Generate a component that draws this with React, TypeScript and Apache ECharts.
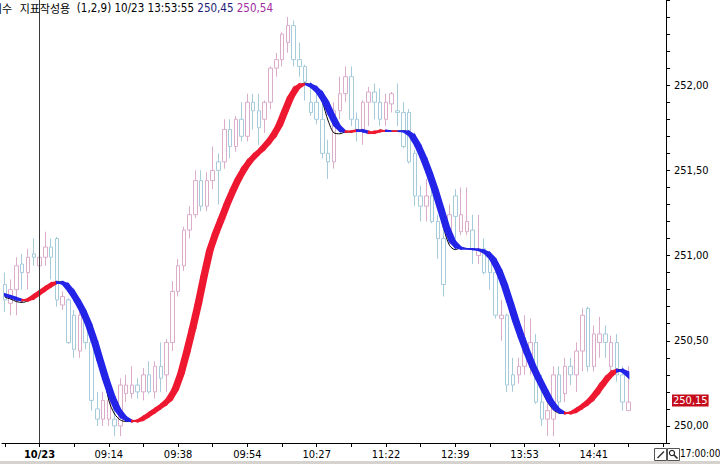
import React, { useEffect, useRef } from 'react';
import * as echarts from 'echarts';

const TOTAL_SLOTS = 115;
const xLabelIndex = [6, 18, 30, 42, 54, 66, 78, 90, 102];
const xLabelText = ['10/23', '09:14', '09:38', '09:54', '10:27', '11:22', '12:39', '13:53', '14:41'];
const TICK_STEP = 6;

const openVals = [
  250.83, 250.72, 250.80, 250.95, 250.90, 251.01, 250.94, 250.99, 251.05, 251.10,
  250.71, 250.74, 250.65, 250.44, 250.63, 250.49, 250.10, 250.04, 250.04, 250.04,
  250.00, 250.19, 250.19, 250.24, 250.20, 250.30, 250.20, 250.35, 250.30, 250.49,
  250.79, 250.94, 251.15, 251.24, 251.44, 251.29, 251.44, 251.55, 251.55, 251.74,
  251.64, 251.80, 251.70, 251.90, 251.85, 251.80, 251.90, 252.10, 252.15, 252.25,
  252.35, 252.15, 252.11, 251.90, 251.90, 251.80, 251.60, 251.55, 251.85, 251.95,
  252.05, 251.80, 251.73, 251.90, 251.96, 251.90, 251.80, 251.89, 251.85, 251.84,
  251.84, 251.60, 251.35, 251.29, 251.35, 251.20, 251.10, 251.14, 251.35, 251.14,
  251.14, 251.15, 251.00, 251.04, 250.98, 250.90, 250.63, 250.65, 250.30, 250.30,
  250.35, 250.40, 250.49, 250.14, 250.04, 250.04, 250.30, 250.19, 250.35, 250.30,
  250.44, 250.69, 250.35, 250.49, 250.54, 250.35, 250.49, 250.30, 250.09,
];
const closeVals = [
  250.74, 250.80, 250.94, 250.90, 250.99, 250.99, 250.99, 251.05, 250.99, 250.74,
  250.76, 250.49, 250.45, 250.65, 250.49, 250.15, 250.04, 250.15, 250.15, 250.00,
  250.24, 250.24, 250.24, 250.20, 250.30, 250.20, 250.35, 250.28, 250.49, 250.79,
  250.94, 251.15, 251.24, 251.44, 251.29, 251.44, 251.50, 251.50, 251.74, 251.64,
  251.80, 251.70, 251.90, 251.85, 251.75, 251.90, 252.10, 252.15, 252.30, 252.35,
  252.15, 252.11, 252.02, 251.84, 251.80, 251.60, 251.55, 251.85, 251.95, 252.05,
  251.80, 251.73, 251.90, 251.96, 251.90, 251.80, 251.90, 251.95, 251.84, 251.64,
  251.55, 251.35, 251.29, 251.35, 251.20, 251.10, 250.83, 251.24, 251.23, 251.24,
  251.20, 251.04, 251.04, 250.90, 250.90, 250.65, 250.65, 250.24, 250.24, 250.35,
  250.49, 250.49, 250.14, 250.04, 250.09, 250.30, 250.14, 250.35, 250.30, 250.44,
  250.65, 250.35, 250.54, 250.54, 250.49, 250.49, 250.30, 250.14, 250.14,
];
const lowVals = [
  250.67, 250.65, 250.65, 250.80, 250.80, 250.94, 250.86, 250.94, 250.86, 250.70,
  250.68, 250.48, 250.40, 250.40, 250.45, 250.09, 250.00, 250.00, 250.00, 249.94,
  249.94, 250.14, 250.16, 250.16, 250.15, 250.19, 250.16, 250.20, 250.20, 250.44,
  250.76, 250.91, 251.10, 251.22, 251.26, 251.26, 251.39, 251.30, 251.51, 251.57,
  251.61, 251.67, 251.67, 251.74, 251.65, 251.72, 251.86, 252.05, 252.11, 252.19,
  252.11, 252.05, 251.91, 251.82, 251.77, 251.57, 251.45, 251.51, 251.80, 251.90,
  251.76, 251.67, 251.65, 251.76, 251.80, 251.76, 251.76, 251.84, 251.76, 251.63,
  251.54, 251.29, 251.20, 251.20, 251.19, 250.98, 250.76, 251.07, 251.10, 251.12,
  251.12, 250.95, 250.95, 250.89, 250.80, 250.63, 250.50, 250.20, 250.20, 250.25,
  250.30, 250.30, 250.13, 250.00, 249.94, 249.94, 250.10, 250.14, 250.24, 250.20,
  250.32, 250.32, 250.32, 250.40, 250.40, 250.29, 250.26, 250.09, 250.09,
];
const highVals = [
  250.90, 250.86, 250.99, 251.01, 251.04, 251.10, 251.26, 251.14, 251.10, 251.11,
  250.79, 250.75, 250.68, 250.71, 250.67, 250.51, 250.20, 250.20, 250.21, 250.10,
  250.28, 250.30, 250.35, 250.28, 250.34, 250.38, 250.38, 250.49, 250.51, 250.85,
  250.98, 251.17, 251.29, 251.50, 251.50, 251.49, 251.64, 251.60, 251.80, 251.80,
  251.82, 251.90, 251.95, 251.95, 251.95, 251.91, 252.11, 252.19, 252.31, 252.40,
  252.38, 252.25, 252.12, 252.02, 251.98, 251.89, 251.68, 251.90, 252.05, 252.11,
  252.11, 251.84, 251.91, 251.99, 252.01, 251.98, 251.95, 251.96, 252.01, 251.90,
  251.86, 251.62, 251.41, 251.45, 251.41, 251.24, 251.15, 251.30, 251.39, 251.40,
  251.40, 251.24, 251.24, 251.10, 251.01, 250.95, 250.74, 250.66, 250.40, 250.40,
  250.65, 250.63, 250.54, 250.30, 250.14, 250.35, 250.35, 250.40, 250.40, 250.49,
  250.69, 250.70, 250.59, 250.64, 250.59, 250.53, 250.54, 250.35, 250.35,
];

// fast average (leading edge of the band)
const fastAvg = [
  250.764, 250.753, 250.741, 250.735, 250.747, 250.770, 250.794, 250.817, 250.838, 250.846,
  250.832, 250.791, 250.738, 250.676, 250.597, 250.498, 250.384, 250.272, 250.173, 250.097,
  250.053, 250.032, 250.026, 250.035, 250.056, 250.079, 250.103, 250.126, 250.158, 250.214,
  250.308, 250.434, 250.571, 250.717, 250.881, 251.031, 251.130, 251.215, 251.303, 251.382,
  251.453, 251.511, 251.558, 251.593, 251.623, 251.661, 251.705, 251.763, 251.848, 251.930,
  251.983, 252.006, 252.006, 251.989, 251.957, 251.904, 251.830, 251.763, 251.731, 251.725,
  251.731, 251.737, 251.728, 251.719, 251.728, 251.734, 251.731, 251.731, 251.731, 251.728,
  251.705, 251.649, 251.573, 251.485, 251.385, 251.274, 251.163, 251.084, 251.048, 251.039,
  251.039, 251.037, 251.031, 251.016, 250.981, 250.916, 250.829, 250.724, 250.615, 250.518,
  250.427, 250.345, 250.275, 250.208, 250.144, 250.100, 250.079, 250.073, 250.082, 250.103,
  250.126, 250.155, 250.196, 250.243, 250.287, 250.319, 250.331, 250.316, 250.285,
];
// slow average (trailing edge of the band)
const slowAvg = [
  250.775, 250.764, 250.753, 250.741, 250.735, 250.747, 250.770, 250.794, 250.817, 250.838,
  250.846, 250.832, 250.791, 250.738, 250.676, 250.597, 250.498, 250.384, 250.272, 250.173,
  250.097, 250.053, 250.032, 250.026, 250.035, 250.056, 250.079, 250.103, 250.126, 250.158,
  250.214, 250.308, 250.434, 250.571, 250.717, 250.881, 251.031, 251.130, 251.215, 251.303,
  251.382, 251.453, 251.511, 251.558, 251.593, 251.623, 251.661, 251.705, 251.763, 251.848,
  251.930, 251.983, 252.006, 252.006, 251.989, 251.957, 251.904, 251.830, 251.763, 251.731,
  251.725, 251.731, 251.737, 251.728, 251.719, 251.728, 251.734, 251.731, 251.731, 251.731,
  251.728, 251.705, 251.649, 251.573, 251.485, 251.385, 251.274, 251.163, 251.084, 251.048,
  251.039, 251.039, 251.037, 251.031, 251.016, 250.981, 250.916, 250.829, 250.724, 250.615,
  250.518, 250.427, 250.345, 250.275, 250.208, 250.144, 250.100, 250.079, 250.073, 250.082,
  250.103, 250.126, 250.155, 250.196, 250.243, 250.287, 250.319, 250.331, 250.316,
];
// thin black line
const signalLine = [
  250.755, 250.745, 250.730, 250.725, 250.735, 250.758, 250.782, 250.805, 250.829, 250.846,
  250.846, 250.817, 250.764, 250.711, 250.641, 250.553, 250.442, 250.325, 250.150, 250.070,
  250.035, 250.026, 250.026, 250.026, 250.044, 250.067, 250.091, 250.114, 250.137, 250.178,
  250.249, 250.366, 250.501, 250.641, 250.793, 250.969, 251.092, 251.168, 251.262, 251.344,
  251.420, 251.485, 251.537, 251.578, 251.608, 251.637, 251.684, 251.725, 251.801, 251.895,
  251.965, 252.000, 252.012, 252.000, 251.977, 251.900, 251.790, 251.720, 251.715, 251.725,
  251.725, 251.737, 251.737, 251.719, 251.719, 251.737, 251.731, 251.731, 251.731, 251.731,
  251.725, 251.684, 251.614, 251.532, 251.438, 251.300, 251.160, 251.060, 251.035, 251.045,
  251.039, 251.039, 251.034, 251.028, 251.004, 250.957, 250.875, 250.782, 250.665, 250.565,
  250.471, 250.383, 250.280, 250.210, 250.140, 250.095, 250.075, 250.073, 250.073, 250.091,
  250.114, 250.137, 250.173, 250.219, 250.266, 250.307, 250.331, 250.331, 250.301,
];

const lastPrice = 250.15;
const headerTime = '10/23 13:53:55';
const headerVal1 = '250,45';
const headerVal2 = '250,54';

const RED = '#ee1830';
const BLUE = '#2424e8';
const PINK = '#dcaccb';
const CYAN = '#a6cbda';
const NARROW = "'Liberation Sans Narrow', 'DejaVu Sans Condensed', 'Liberation Sans', 'Noto Sans CJK KR', sans-serif";

export default function App() {
  const ref = useRef<HTMLDivElement>(null);
  useEffect(() => {
    if (!ref.current) return;
    const chart = echarts.init(ref.current, undefined, { renderer: 'svg' });

    const categories: string[] = [];
    for (let i = 0; i < TOTAL_SLOTS; i++) {
      const k = xLabelIndex.indexOf(i);
      categories.push(k >= 0 ? xLabelText[k] : '');
    }
    const candleData = openVals.map((o, i) => [o, closeVals[i], lowVals[i], highVals[i]]);
    const n = fastAvg.length;
    const bandData = fastAvg.map((a, i) => [i, a, slowAvg[i]]);

    const fmt = (v: number) => v.toFixed(2).replace('.', ',');

    chart.setOption({
      animation: false,
      backgroundColor: '#ffffff',
      textStyle: { fontFamily: NARROW },
      grid: { left: 2, right: 54, top: 0, bottom: 21, containLabel: false },
      xAxis: {
        type: 'category',
        data: categories,
        boundaryGap: true,
        axisLine: { show: true, lineStyle: { color: '#000', width: 1 } },
        axisTick: {
          show: true,
          alignWithLabel: true,
          interval: (idx: number) => idx % TICK_STEP === 0,
          length: 4,
          lineStyle: { color: '#000' },
        },
        axisLabel: {
          interval: 0,
          color: '#000',
          fontSize: 11,
          margin: 6,
          fontFamily: NARROW,
          formatter: (v: string) => (v === xLabelText[0] ? '{b|' + v + '}' : v),
          rich: { b: { fontWeight: 'bold', fontSize: 11, fontFamily: NARROW, color: '#000' } },
        },
        splitLine: { show: false },
      },
      yAxis: {
        type: 'value',
        position: 'right',
        min: 249.9,
        max: 252.5,
        interval: 0.1,
        axisLine: { show: true, lineStyle: { color: '#000', width: 1 } },
        axisTick: { show: true, length: 4, lineStyle: { color: '#000' } },
        axisLabel: {
          color: '#000',
          fontSize: 11,
          margin: 8,
          fontFamily: NARROW,
          showMinLabel: true,
          showMaxLabel: true,
          formatter: (v: number) => (Math.round(v * 10) % 5 === 0 && v > 249.95 && v < 252.45 ? fmt(v) : ''),
        },
        splitLine: { show: false },
      },
      series: [
        {
          type: 'candlestick',
          data: candleData,
          barWidth: 4,
          itemStyle: {
            color: '#ffffff',
            color0: '#ffffff',
            borderColor: PINK,
            borderColor0: CYAN,
            borderWidth: 1,
          },
          z: 1,
          markLine: {
            silent: true,
            symbol: 'none',
            animation: false,
            data: [
              {
                xAxis: xLabelText[0],
                lineStyle: { color: '#3a3a3a', width: 1, type: 'solid' },
                label: { show: false },
              },
              {
                yAxis: lastPrice,
                lineStyle: { color: 'rgba(255,255,255,0)', width: 0.01 },
                label: {
                  show: true,
                  position: 'end',
                  distance: 6,
                  formatter: fmt(lastPrice),
                  color: '#ffffff',
                  backgroundColor: '#c40c1c',
                  padding: [1, 1, 0, 1],
                  fontSize: 11,
                  fontFamily: NARROW,
                },
              },
            ],
          },
        },
        {
          type: 'line',
          data: signalLine,
          symbol: 'none',
          smooth: 0.3,
          lineStyle: { color: '#000000', width: 1 },
          z: 2,
        },
        {
          type: 'custom',
          data: bandData,
          encode: { x: 0, y: [1, 2] },
          z: 3,
          renderItem: (params: any, api: any) => {
            const i = api.value(0);
            if (i >= n - 1) return { type: 'group', children: [] };
            const p1 = api.coord([i, fastAvg[i]]);
            const p2 = api.coord([i + 1, fastAvg[i + 1]]);
            const p3 = api.coord([i + 1, slowAvg[i + 1]]);
            const p4 = api.coord([i, slowAvg[i]]);
            const up = fastAvg[i] + fastAvg[i + 1] >= slowAvg[i] + slowAvg[i + 1];
            const col = up ? RED : BLUE;
            return {
              type: 'polygon',
              shape: { points: [p1, p2, p3, p4] },
              style: { fill: col, stroke: col, lineWidth: 1.8 },
            };
          },
        },
      ],
      graphic: [
        {
          type: 'text',
          left: -8,
          top: 2,
          style: {
            text: '{k|지수   지표작성용}{n|  (1,2,9) ' + headerTime + ' }{v1|' + headerVal1 + '}{n| }{v2|' + headerVal2 + '}',
            rich: {
              k: { fontFamily: "'Noto Sans CJK KR', sans-serif", fontSize: 11, fill: '#000' },
              n: { fontFamily: NARROW, fontSize: 11.5, fill: '#000' },
              v1: { fontFamily: NARROW, fontSize: 11.5, fill: '#1c1c78' },
              v2: { fontFamily: NARROW, fontSize: 11.5, fill: '#a22ca0' },
            },
          },
          z: 10,
        },
        { type: 'rect', shape: { x: 0, y: 461, width: 720, height: 3 }, style: { fill: '#d6d3ce' }, z: 10 },
        { type: 'rect', shape: { x: 654.5, y: 448.5, width: 12, height: 12 }, style: { fill: '#fff', stroke: '#555', lineWidth: 1 }, z: 10 },
        { type: 'line', shape: { x1: 657.5, y1: 458, x2: 664, y2: 451.5 }, style: { stroke: '#333', lineWidth: 1.4 }, z: 11 },
        { type: 'rect', shape: { x: 667.5, y: 448.5, width: 12, height: 12 }, style: { fill: '#fff', stroke: '#555', lineWidth: 1 }, z: 10 },
        { type: 'circle', shape: { cx: 672, cy: 453, r: 2.6 }, style: { fill: 'none', stroke: '#222', lineWidth: 1.2 }, z: 11 },
        { type: 'line', shape: { x1: 674, y1: 455, x2: 677.5, y2: 458.5 }, style: { stroke: '#222', lineWidth: 1.6 }, z: 11 },
        {
          type: 'text',
          left: 680,
          top: 448,
          style: { text: '17:00:00', fontFamily: NARROW, fontSize: 10, fill: '#000' },
          z: 10,
        },
      ],
    });
    return () => chart.dispose();
  }, []);
  return (
    <div
      ref={ref}
      style={{ position: 'absolute', left: 0, top: 0, width: 720, height: 464, background: '#fff' }}
    />
  );
}
